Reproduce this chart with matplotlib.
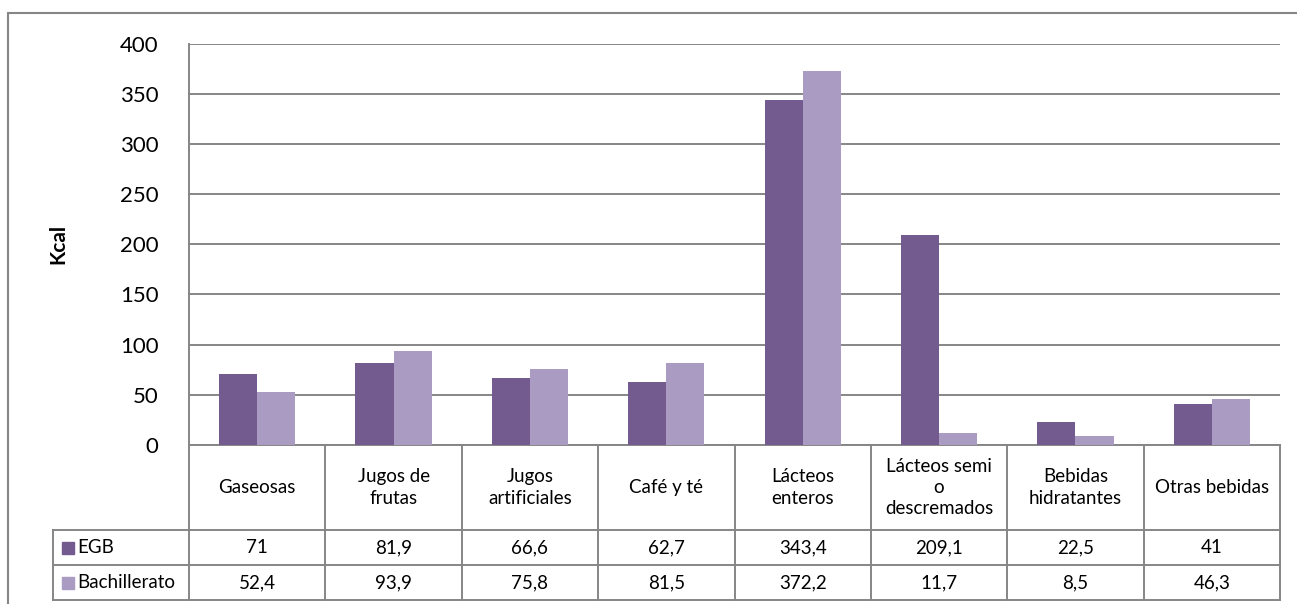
import matplotlib.pyplot as plt
from matplotlib.patches import Rectangle

categories = ['Gaseosas', 'Jugos de\nfrutas', 'Jugos\nartificiales', 'Café y té',
              'Lácteos\nenteros', 'Lácteos semi\no\ndescremados', 'Bebidas\nhidratantes',
              'Otras bebidas']
egb = [71, 81.9, 66.6, 62.7, 343.4, 209.1, 22.5, 41]
bach = [52.4, 93.9, 75.8, 81.5, 372.2, 11.7, 8.5, 46.3]
series = ['EGB', 'Bachillerato']
colors = ['#735A8F', '#A99BC1']
yticks = [0, 50, 100, 150, 200, 250, 300, 350, 400]

plt.rcParams['font.family'] = ['Lato', 'DejaVu Sans']
grid_c = '#868686'

def fmt(v):
    s = ('%g' % v)
    return s.replace('.', ',')

W, H = 1297, 604
fig = plt.figure(figsize=(W / 100, H / 100), dpi=100)

# borde exterior
fig.add_artist(Rectangle((8 / W, -0.1), 1.2, 1 - 13.5 / H + 0.1, transform=fig.transFigure,
                         fill=False, ec=grid_c, lw=1.5))

left, right, top, bottom = 189, 1280, 43.5, 445
ax = fig.add_axes([left / W, 1 - bottom / H, (right - left) / W, (bottom - top) / H])

n = len(categories)
x = list(range(n))
bw = 0.28
ax.bar([i - bw / 2 for i in x], egb, bw, color=colors[0], zorder=3)
ax.bar([i + bw / 2 for i in x], bach, bw, color=colors[1], zorder=3)

ax.set_xlim(-0.5, n - 0.5)
ax.set_ylim(0, 400)
ax.set_yticks(yticks)
ax.set_yticklabels([str(t) for t in yticks], fontsize=16)
ax.tick_params(axis='y', length=0, pad=22)
ax.set_xticks([])
ax.grid(axis='y', color=grid_c, lw=1.4, zorder=0)
for s in ['top', 'right']:
    ax.spines[s].set_visible(False)
for s in ['left', 'bottom']:
    ax.spines[s].set_color(grid_c)
    ax.spines[s].set_linewidth(1.4)

fig.text(58 / W, 1 - 244 / H, 'Kcal', rotation=90, ha='center', va='center',
         fontsize=15, fontweight='bold')

# tabla de datos
ph = bottom - top
rows = [445, 530, 565, 600]
ry = [(bottom - r) / ph for r in rows]
tr = ax.get_xaxis_transform()
lk = dict(color=grid_c, lw=1.4, transform=tr, clip_on=False)

for k in range(n + 1):
    ax.plot([k - 0.5, k - 0.5], [ry[0], ry[3]], **lk)
ax.plot([-1.5, -1.5], [ry[1], ry[3]], **lk)
for r in ry[1:]:
    ax.plot([-1.5, n - 0.5], [r, r], **lk)

fs = 13.5
for i, c in enumerate(categories):
    ax.text(i, (ry[0] + ry[1]) / 2, c, transform=tr, ha='center', va='center',
            fontsize=fs, linespacing=1.3)
    ax.text(i, (ry[1] + ry[2]) / 2, fmt(egb[i]), transform=tr, ha='center', va='center', fontsize=fs)
    ax.text(i, (ry[2] + ry[3]) / 2, fmt(bach[i]), transform=tr, ha='center', va='center', fontsize=fs)

for j, s in enumerate(series):
    yc = (ry[1 + j] + ry[2 + j]) / 2
    ax.plot([-1.385], [yc], marker='s', ms=9, color=colors[j], transform=tr, clip_on=False, lw=0)
    ax.text(-1.32, yc, s, transform=tr, ha='left', va='center', fontsize=fs)

fig.savefig('out.png', dpi=100)
